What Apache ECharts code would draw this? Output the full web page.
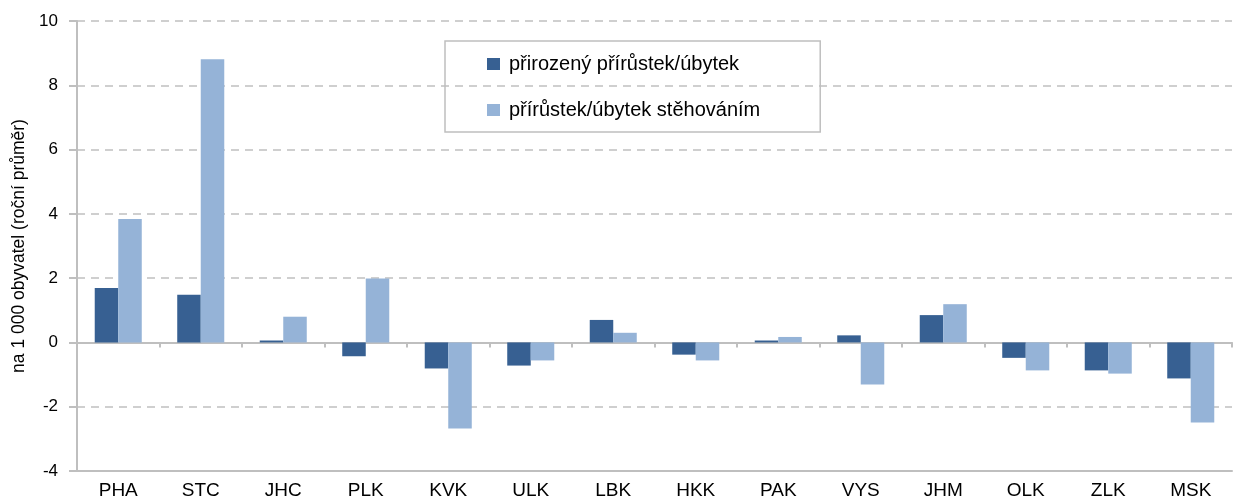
<!DOCTYPE html>
<html><head><meta charset="utf-8">
<script src="https://cdn.jsdelivr.net/npm/echarts@6/dist/echarts.min.js"></script>
<style>html,body{margin:0;padding:0;background:#fff}#c{width:1233px;height:497px}</style>
</head><body><div id="c"></div>
<script>
const categories = ['PHA','STC','JHC','PLK','KVK','ULK','LBK','HKK','PAK','VYS','JHM','OLK','ZLK','MSK'];
const natural = [1.69, 1.48, 0.06, -0.43, -0.81, -0.72, 0.70, -0.38, 0.06, 0.22, 0.85, -0.48, -0.87, -1.12];
const migration = [3.84, 8.81, 0.80, 1.99, -2.68, -0.56, 0.30, -0.56, 0.17, -1.31, 1.19, -0.87, -0.97, -2.49];
const seriesNames = ['přirozený přírůstek/úbytek', 'přírůstek/úbytek stěhováním'];
const yTicks = {min: -4, max: 10, interval: 2};

const font = 'Liberation Sans, Arial, sans-serif';
const chart = echarts.init(document.getElementById('c'));
chart.setOption({
  animation: false,
  textStyle: {fontFamily: font},
  grid: {left: 77, right: 1, top: 21, bottom: 26, containLabel: false, outerBoundsMode: 'none'},
  legend: {
    orient: 'vertical', left: 445, top: 41,
    padding: [13, 60, 12, 42], itemGap: 26,
    borderColor: '#bfbfbf', borderWidth: 1.5,
    itemWidth: 13, itemHeight: 12, icon: 'rect',
    textStyle: {fontSize: 20, color: '#000', fontFamily: font, padding: [0, 0, 0, 4]},
    data: seriesNames
  },
  xAxis: [{
    type: 'category', data: categories, position: 'bottom',
    axisLine: {onZero: false, lineStyle: {color: '#bfbfbf', width: 2}},
    axisTick: {show: false},
    axisLabel: {fontSize: 19, color: '#000', margin: 10, fontFamily: font}
  }, {
    type: 'category', data: categories, position: 'bottom',
    axisLine: {onZero: true, lineStyle: {color: '#bfbfbf', width: 2}},
    axisTick: {show: true, interval: 0, length: 5, lineStyle: {color: '#bfbfbf', width: 2}},
    axisLabel: {show: false}
  }],
  yAxis: {
    type: 'value', min: yTicks.min, max: yTicks.max, interval: yTicks.interval,
    name: 'na 1 000 obyvatel (roční průměr)', nameLocation: 'middle', nameGap: 47,
    nameTextStyle: {fontSize: 17.5, color: '#000', fontFamily: font},
    axisLine: {show: true, lineStyle: {color: '#bfbfbf', width: 2}},
    axisTick: {show: true, length: 8, lineStyle: {color: '#bfbfbf', width: 2}},
    axisLabel: {fontSize: 17, color: '#000', margin: 19, fontFamily: font},
    splitLine: {show: true, lineStyle: {color: '#c0c0c0', width: 1.5, type: [8, 6]}}
  },
  series: [{
    name: seriesNames[0], type: 'bar', data: natural, xAxisIndex: 0,
    barWidth: '28.5%', barGap: '0%',
    itemStyle: {color: '#376092'}
  }, {
    name: seriesNames[1], type: 'bar', data: migration, xAxisIndex: 0,
    barWidth: '28.5%', barGap: '0%',
    itemStyle: {color: '#95b3d7'}
  }]
});
</script></body></html>
